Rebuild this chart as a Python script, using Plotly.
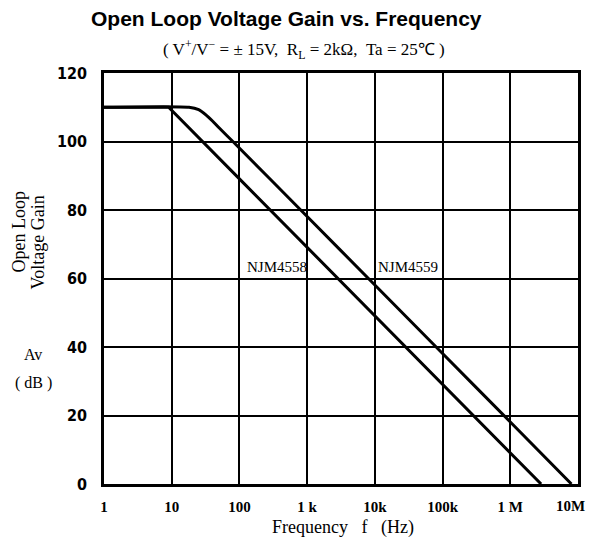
import plotly.graph_objects as go

# Data
freq_4558 = [1, 9, 100, 1e3, 1e4, 1e5, 1e6, 2.85e6]
gain_4558 = [110, 110, 89.1, 69.1, 49.1, 29.1, 9.1, 0]

freq_4559 = [1, 18, 25, 32, 40, 50, 80, 1e3, 1e4, 1e5, 1e6, 8e6]
gain_4559 = [110, 110, 109.3, 107.8, 106, 104, 100, 78.1, 58.1, 38.1, 18.1, 0]

x_tickvals = [1, 10, 100, 1e3, 1e4, 1e5, 1e6, 1e7]
x_ticktext = ["1", "10", "100", "1 k", "10k", "100k", "1 M", "10M"]
y_tickvals = [0, 20, 40, 60, 80, 100, 120]

serif = "Liberation Serif, Times New Roman, serif"
sans = "Liberation Sans, Arial, sans-serif"
narrow = "Liberation Sans Narrow, DejaVu Sans Condensed, Arial Narrow, sans-serif"

# page body has an 8px margin on every side; keep the figure inside the window
OFF = 8
L, R, T, B = 104, 581, 73, 484
W, H = 599 - 2 * OFF, 548 - 2 * OFF

fig = go.Figure()
fig.add_trace(go.Scatter(x=freq_4558, y=gain_4558, mode="lines",
                         line=dict(color="black", width=3), showlegend=False))
fig.add_trace(go.Scatter(x=freq_4559, y=gain_4559, mode="lines",
                         line=dict(color="black", width=3, shape="spline", smoothing=0.6),
                         showlegend=False))

# last tick label (10M) sits at the page edge: it is drawn as an annotation nudged inward
axis_text = ["<b>" + t + "</b>" for t in x_ticktext[:-1]] + [""]

fig.update_layout(
    width=W, height=H, autosize=False,
    margin=dict(l=L - OFF, r=(OFF + W) - R, t=T - OFF, b=(OFF + H) - B),
    paper_bgcolor="white", plot_bgcolor="white",
    showlegend=False,
    xaxis=dict(type="log", range=[0, 7], tickvals=x_tickvals,
               ticktext=axis_text,
               tickfont=dict(family=serif, size=15, color="black"),
               showgrid=True, gridcolor="black", gridwidth=1.5,
               showline=True, linecolor="black", linewidth=2.5, mirror=True,
               ticks="", ticklabelstandoff=7, zeroline=False),
    yaxis=dict(range=[0, 120], tickvals=y_tickvals,
               ticktext=["<b>%d</b>" % v for v in y_tickvals],
               tickfont=dict(family=narrow, size=16, color="black"),
               showgrid=True, gridcolor="black", gridwidth=1.5,
               showline=True, linecolor="black", linewidth=2.5, mirror=True,
               ticks="", ticklabelstandoff=11, zeroline=False),
)


def px(x):
    return (x - L) / (R - L)


def py(y):
    return (B - y) / (B - T)


ann = []
ann.append(dict(xref="paper", yref="paper", x=px(590), y=py(506),
                text="<b>" + x_ticktext[-1] + "</b>", showarrow=False,
                font=dict(family=serif, size=15, color="black"), xanchor="right", yanchor="middle"))
ann.append(dict(xref="paper", yref="paper", x=px(288), y=py(19),
                text="<b>Open Loop Voltage Gain vs. Frequency</b>", showarrow=False,
                font=dict(family=sans, size=21, color="black"), xanchor="center", yanchor="middle"))
ann.append(dict(xref="paper", yref="paper", x=px(305), y=py(50),
                text="( V<sup>+</sup>/V<sup>−</sup> = ± 15V,  R<sub>L</sub> = 2kΩ,  Ta = 25℃ )",
                showarrow=False, font=dict(family=serif, size=17, color="black"),
                xanchor="center", yanchor="middle"))
ann.append(dict(xref="paper", yref="paper", x=px(345), y=py(527),
                text="Frequency   f   (Hz)", showarrow=False,
                font=dict(family=serif, size=18, color="black"), xanchor="center", yanchor="middle"))
ann.append(dict(xref="paper", yref="paper", x=px(18), y=py(232),
                text="Open Loop", textangle=-90, showarrow=False,
                font=dict(family=serif, size=18, color="black"), xanchor="center", yanchor="middle"))
ann.append(dict(xref="paper", yref="paper", x=px(38), y=py(242),
                text="Voltage Gain", textangle=-90, showarrow=False,
                font=dict(family=serif, size=18, color="black"), xanchor="center", yanchor="middle"))
ann.append(dict(xref="paper", yref="paper", x=px(33), y=py(354),
                text="Av", showarrow=False,
                font=dict(family=serif, size=16, color="black"), xanchor="center", yanchor="middle"))
ann.append(dict(xref="paper", yref="paper", x=px(33), y=py(383),
                text="( dB )", showarrow=False,
                font=dict(family=serif, size=16, color="black"), xanchor="center", yanchor="middle"))
ann.append(dict(x=2.55, y=63.4, text="NJM4558", showarrow=False,
                font=dict(family=serif, size=15, color="black"), xanchor="center", yanchor="middle"))
ann.append(dict(x=4.49, y=63.4, text="NJM4559", showarrow=False,
                font=dict(family=serif, size=15, color="black"), xanchor="center", yanchor="middle"))
fig.update_layout(annotations=ann)

fig.write_html("out.html")
